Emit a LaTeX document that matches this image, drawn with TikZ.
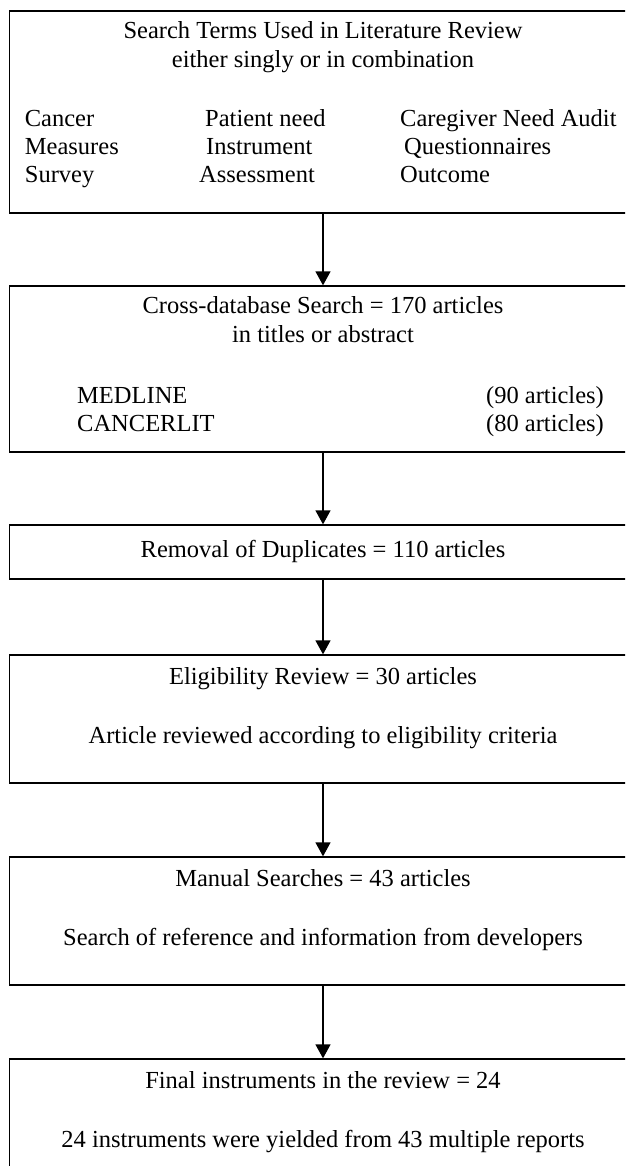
\documentclass[tikz,border=0pt]{standalone}
\usepackage{fontspec}
\setmainfont{Liberation Serif}
\usetikzlibrary{arrows.meta}
\begin{document}
\begin{tikzpicture}[x=1pt,y=1pt,
  box/.style={draw=black,line width=1.3pt,minimum width=627pt,inner sep=0pt},
  txt/.style={inner sep=0pt,font=\fontsize{24.5}{29}\selectfont},
  arr/.style={line width=1.3pt,-{Triangle[length=14pt,width=15pt]}}]
\useasboundingbox (0,0) rectangle (625,-1166);
\clip (0,0) rectangle (625,-1166);
% boxes
\node[box,minimum height=202pt] (b1) at (323,-112) {};
\node[box,minimum height=166pt] (b2) at (323,-369) {};
\node[box,minimum height=54pt]  (b3) at (323,-552) {};
\node[box,minimum height=128pt] (b4) at (323,-719) {};
\node[box,minimum height=128pt] (b5) at (323,-921) {};
\node[box,minimum height=160pt] (b6) at (323,-1139) {};
% connectors
\draw[arr] (b1.south) -- (b2.north);
\draw[arr] (b2.south) -- (b3.north);
\draw[arr] (b3.south) -- (b4.north);
\draw[arr] (b4.south) -- (b5.north);
\draw[arr] (b5.south) -- (b6.north);
% box 1
\node[txt,anchor=base] (t1a) at (323,-39) {Search Terms Used in Literature Review};
\node[txt,anchor=base] (t1b) at (323,-68) {either singly or in combination};
\node[txt,anchor=base west] (c11) at (24.7,-127) {Cancer};
\node[txt,anchor=base west] (c12) at (205,-127) {Patient need};
\node[txt,anchor=base west] (c13) at (400,-127) {Caregiver Need Audit};
\node[txt,anchor=base west] (c21) at (24.7,-155) {Measures};
\node[txt,anchor=base west] (c22) at (206,-155) {Instrument};
\node[txt,anchor=base west] (c23) at (404,-155) {Questionnaires};
\node[txt,anchor=base west] (c31) at (24.7,-183) {Survey};
\node[txt,anchor=base west] (c32) at (199,-183) {Assessment};
\node[txt,anchor=base west] (c33) at (400,-183) {Outcome};
% box 2
\node[txt,anchor=base] (t2a) at (323,-313) {Cross-database Search = 170 articles};
\node[txt,anchor=base] (t2b) at (323,-342) {in titles or abstract};
\node[txt,anchor=base west] (d1) at (77,-403) {MEDLINE};
\node[txt,anchor=base west] (d2) at (77,-431) {CANCERLIT};
\node[txt,anchor=base east] (n1) at (604,-403) {(90 articles)};
\node[txt,anchor=base east] (n2) at (604,-431) {(80 articles)};
% box 3
\node[txt,anchor=base] (t3) at (323,-557) {Removal of Duplicates = 110 articles};
% box 4
\node[txt,anchor=base] (t4a) at (323,-684) {Eligibility Review = 30 articles};
\node[txt,anchor=base] (t4b) at (323,-743) {Article reviewed according to eligibility criteria};
% box 5
\node[txt,anchor=base] (t5a) at (323,-886) {Manual Searches = 43 articles};
\node[txt,anchor=base] (t5b) at (323,-945) {Search of reference and information from developers};
% box 6
\node[txt,anchor=base] (t6a) at (323,-1088) {Final instruments in the review = 24};
\node[txt,anchor=base] (t6b) at (323,-1147) {24 instruments were yielded from 43 multiple reports};
\end{tikzpicture}
\end{document}
